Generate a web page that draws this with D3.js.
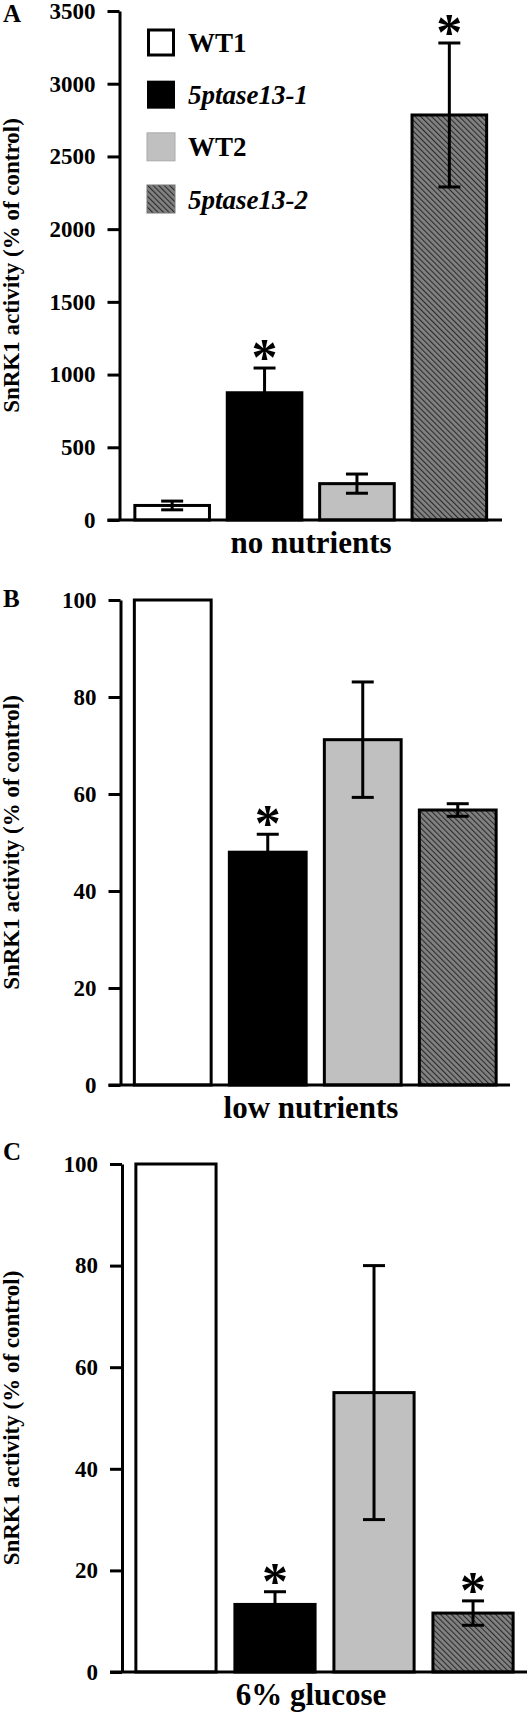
<!DOCTYPE html>
<html>
<head>
<meta charset="utf-8">
<script src="https://cdn.jsdelivr.net/npm/d3@7"></script>
<style>
  html, body { margin: 0; padding: 0; background: #fff; }
  svg { display: block; }
  text { font-family: "Liberation Serif", "Times New Roman", serif; font-weight: bold; fill: #000; }
</style>
</head>
<body>
<script>
// ---- data ----
const groups = ["WT1", "5ptase13-1", "WT2", "5ptase13-2"];
const groupItalic = [false, true, false, true];
const conditions = ["no nutrients", "low nutrients", "6% glucose"];
const panelLetters = ["A", "B", "C"];

const noNutrientsMean = [100, 875, 250, 2785];
const noNutrientsErr  = [30, 170, 66, 495];
const noNutrientsSig  = [false, true, false, true];

const lowNutrientsMean = [100, 48, 71.2, 56.7];
const lowNutrientsErr  = [0, 3.7, 11.9, 1.3];
const lowNutrientsSig  = [false, true, false, false];

const glucoseMean = [100, 13.3, 55, 11.6];
const glucoseErr  = [0, 2.5, 25, 2.4];
const glucoseSig  = [false, true, false, true];

const ticksA  = [0, 500, 1000, 1500, 2000, 2500, 3000, 3500];
const ticksBC = [0, 20, 40, 60, 80, 100];
const yTitle = "SnRK1 activity (% of control)";

// ---- layout ----
const W = 531, H = 1717;
const svg = d3.select("body").append("svg").attr("width", W).attr("height", H);

const defs = svg.append("defs");
const pat = defs.append("pattern")
  .attr("id", "hatch").attr("patternUnits", "userSpaceOnUse")
  .attr("width", 3.9).attr("height", 3.9)
  .attr("patternTransform", "rotate(-45)");
pat.append("rect").attr("width", 3.9).attr("height", 3.9).attr("fill", "#828282");
pat.append("line").attr("x1", 0.6).attr("y1", 0).attr("x2", 0.6).attr("y2", 3.9)
  .attr("stroke", "#222").attr("stroke-width", 1);

const fills = ["#ffffff", "#000000", "#c0c0c0", "url(#hatch)"];

const panels = [
  { mean: noNutrientsMean, err: noNutrientsErr, sig: noNutrientsSig, ticks: ticksA, max: 3500,
    axisX: 119.5, xEnd: 502, top: 11, bottom: 520, pi: 0.16, po: 0.15, letterY: 22, legend: true },
  { mean: lowNutrientsMean, err: lowNutrientsErr, sig: lowNutrientsSig, ticks: ticksBC, max: 100,
    axisX: 120.5, xEnd: 510, top: 600, bottom: 1085, pi: 0.16, po: 0.13, letterY: 607, legend: false },
  { mean: glucoseMean, err: glucoseErr, sig: glucoseSig, ticks: ticksBC, max: 100,
    axisX: 122, xEnd: 527, top: 1164, bottom: 1672, pi: 0.16, po: 0.125, letterY: 1160, legend: false }
];

panels.forEach((p, pi) => {
  const g = svg.append("g");
  const y = d3.scaleLinear().domain([0, p.max]).range([p.bottom, p.top]);
  const x = d3.scaleBand().domain(groups).range([p.axisX, p.xEnd])
    .paddingInner(p.pi).paddingOuter(p.po);

  // bars
  g.selectAll("rect.bar").data(groups).join("rect")
    .attr("class", "bar")
    .attr("x", d => x(d) + 1.5)
    .attr("width", x.bandwidth() - 3)
    .attr("y", (d, i) => y(p.mean[i]))
    .attr("height", (d, i) => y(0) - y(p.mean[i]))
    .attr("fill", (d, i) => fills[i])
    .attr("stroke", "#000").attr("stroke-width", 3);

  // error bars
  const eb = g.selectAll("g.err").data(groups.filter((d, i) => p.err[i] > 0)).join("g").attr("class", "err");
  eb.each(function(d) {
    const i = groups.indexOf(d);
    const cx = x(d) + x.bandwidth() / 2;
    const e = d3.select(this);
    const hi = y(p.mean[i] + p.err[i]), lo = y(p.mean[i] - p.err[i]);
    e.append("line").attr("x1", cx).attr("x2", cx).attr("y1", hi).attr("y2", lo)
      .attr("stroke", "#000").attr("stroke-width", 3);
    [hi, lo].forEach(yy => e.append("line").attr("x1", cx - 11).attr("x2", cx + 11)
      .attr("y1", yy).attr("y2", yy).attr("stroke", "#000").attr("stroke-width", 3));
  });

  // significance asterisks
  g.selectAll("text.sig").data(groups.filter((d, i) => p.sig[i])).join("text")
    .attr("class", "sig")
    .attr("x", d => x(d) + x.bandwidth() / 2)
    .attr("y", d => { const i = groups.indexOf(d); return y(p.mean[i] + p.err[i]) - 14 + 21; })
    .attr("text-anchor", "middle")
    .style("font-size", "52px")
    .text("*");

  // y axis
  const ax = g.append("g").attr("transform", `translate(${p.axisX},0)`)
    .call(d3.axisLeft(y).tickValues(p.ticks).tickSize(12).tickPadding(12).tickSizeOuter(0).tickFormat(d3.format("d")));
  ax.select(".domain").attr("stroke", "#000").attr("stroke-width", 3);
  ax.selectAll(".tick line").attr("stroke", "#000").attr("stroke-width", 3);
  ax.selectAll(".tick text").attr("fill", "#000")
    .style("font-family", "'Liberation Serif', 'Times New Roman', serif")
    .style("font-weight", "bold").style("font-size", "23px");

  // x axis baseline
  g.append("line").attr("x1", p.axisX - 12).attr("x2", p.xEnd)
    .attr("y1", y(0)).attr("y2", y(0)).attr("stroke", "#000").attr("stroke-width", 3);

  // condition label
  g.append("text").attr("x", 311).attr("y", y(0) + 33)
    .attr("text-anchor", "middle").style("font-size", "31px").text(conditions[pi]);

  // panel letter
  g.append("text").attr("x", 3).attr("y", p.letterY).style("font-size", "25px").text(panelLetters[pi]);

  // y title
  g.append("text")
    .attr("transform", `translate(19,${(p.top + p.bottom) / 2}) rotate(-90)`)
    .attr("text-anchor", "middle").style("font-size", "23px").text(yTitle);

  // legend
  if (p.legend) {
    const ly = d3.scalePoint().domain(groups).range([42.5, 199]);
    const lg = g.append("g");
    groups.forEach((d, i) => {
      const cy = ly(d);
      const r = lg.append("rect").attr("x", 147).attr("y", cy - 14).attr("width", 28).attr("height", 28)
        .attr("fill", fills[i]);
      if (i === 0) r.attr("x", 148.5).attr("y", cy - 12.5).attr("width", 25).attr("height", 25)
        .attr("stroke", "#000").attr("stroke-width", 3);
      else if (i === 2) r.attr("stroke", "#aaa").attr("stroke-width", 1);
      else if (i === 3) r.attr("stroke", "#777").attr("stroke-width", 1);
      lg.append("text").attr("x", 188).attr("y", cy + 9.5)
        .style("font-size", "27px")
        .style("font-style", groupItalic[i] ? "italic" : "normal")
        .text(d);
    });
  }
});
</script>
</body>
</html>
